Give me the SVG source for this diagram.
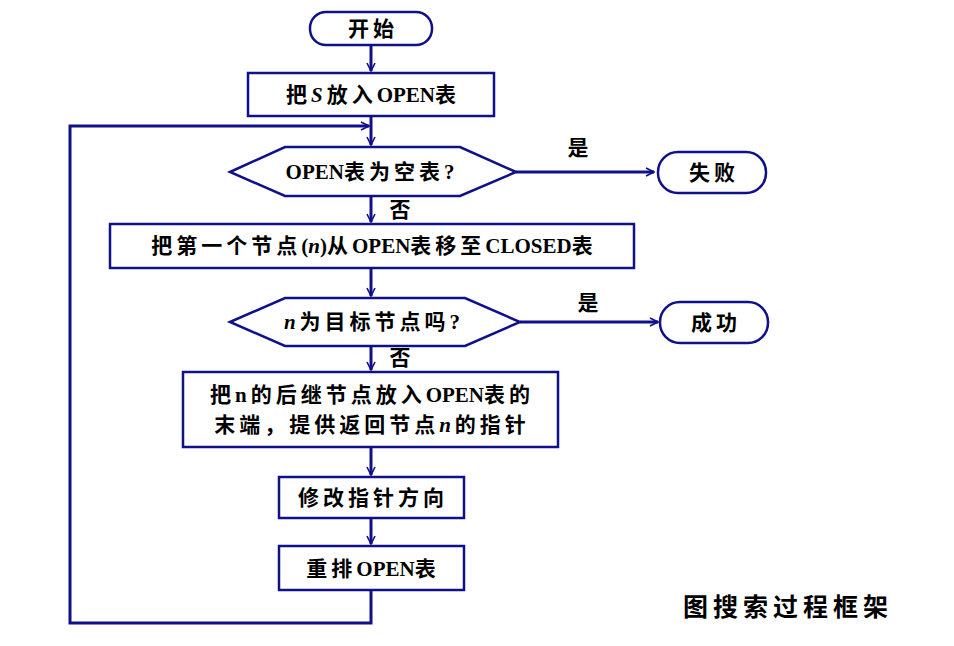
<svg xmlns="http://www.w3.org/2000/svg" width="954" height="646" viewBox="0 0 954 646">
<defs>
<marker id="ah" viewBox="0 0 10 10" refX="9" refY="5" markerWidth="10" markerHeight="10" markerUnits="userSpaceOnUse" orient="auto">
<path d="M1,1 L9,5 L1,9" fill="none" stroke="#10108a" stroke-width="1.6"/>
</marker>
<style>
.s{fill:#fff;stroke:#10108a;stroke-width:2.5}
.c{fill:none;stroke:#10108a;stroke-width:3}
.t{font-family:"Liberation Serif","Noto Sans CJK SC",serif;font-weight:bold;font-size:21px;fill:#000;text-anchor:middle;letter-spacing:4px}
.i{font-style:italic}
.l{letter-spacing:0}
</style>
</defs>
<rect width="954" height="646" fill="#fff"/>
<g id="connectors">
<path class="c" d="M371,45 V71" marker-end="url(#ah)"/>
<path class="c" d="M371,116 V145" marker-end="url(#ah)"/>
<path class="c" d="M371,590 V623 H70 V126 H369" marker-end="url(#ah)"/>
<path class="c" d="M516,172 H654" marker-end="url(#ah)"/>
<path class="c" d="M371,196 V222" marker-end="url(#ah)"/>
<path class="c" d="M371,268 V296" marker-end="url(#ah)"/>
<path class="c" d="M520,322 H658" marker-end="url(#ah)"/>
<path class="c" d="M371,346 V370" marker-end="url(#ah)"/>
<path class="c" d="M371,447 V475" marker-end="url(#ah)"/>
<path class="c" d="M371,518 V544" marker-end="url(#ah)"/>
<text class="t" x="580" y="155">是</text>
<text class="t" x="402" y="217">否</text>
<text class="t" x="590" y="310">是</text>
<text class="t" x="402" y="365">否</text>
</g>
<g id="start"><rect class="s" x="310" y="12" width="122" height="33" rx="16"/><text class="t" x="373" y="36">开始</text></g>
<g id="box1"><rect class="s" x="248" y="73" width="246" height="43"/><text class="t" x="373" y="102">把<tspan class="i">S</tspan>放入<tspan class="l">OPEN</tspan>表</text></g>
<g id="dec1"><polygon class="s" points="230,172 285,147 460,147 516,172 460,196 285,196"/><text class="t" x="372" y="179"><tspan class="l">OPEN</tspan>表为空表?</text></g>
<g id="fail"><rect class="s" x="658" y="152" width="108" height="41" rx="20"/><text class="t" x="714" y="180">失败</text></g>
<g id="box2"><rect class="s" x="110" y="224" width="524" height="44"/><text class="t" x="374" y="253">把第一个节点<tspan class="l">(<tspan class="i">n</tspan>)</tspan>从<tspan class="l">OPEN</tspan>表移至<tspan class="l">CLOSED</tspan>表</text></g>
<g id="dec2"><polygon class="s" points="230,322 285,298 465,298 520,322 465,346 285,346"/><text class="t" x="374" y="329"><tspan class="i">n</tspan>为目标节点吗?</text></g>
<g id="success"><rect class="s" x="660" y="302" width="108" height="41" rx="20"/><text class="t" x="716" y="330">成功</text></g>
<g id="box3"><rect class="s" x="183" y="372" width="375" height="75"/><text class="t" x="372" y="402">把n的后继节点放入<tspan class="l">OPEN</tspan>表的</text><text class="t" x="372" y="432">末端，提供返回节点<tspan class="i">n</tspan>的指针</text></g>
<g id="box4"><rect class="s" x="279" y="477" width="185" height="41"/><text class="t" x="373" y="505">修改指针方向</text></g>
<g id="box5"><rect class="s" x="279" y="546" width="185" height="44"/><text class="t" x="373" y="576">重排<tspan class="l">OPEN</tspan>表</text></g>
<text class="t" x="788" y="616" style="font-size:25px;letter-spacing:5px">图搜索过程框架</text>
</svg>
